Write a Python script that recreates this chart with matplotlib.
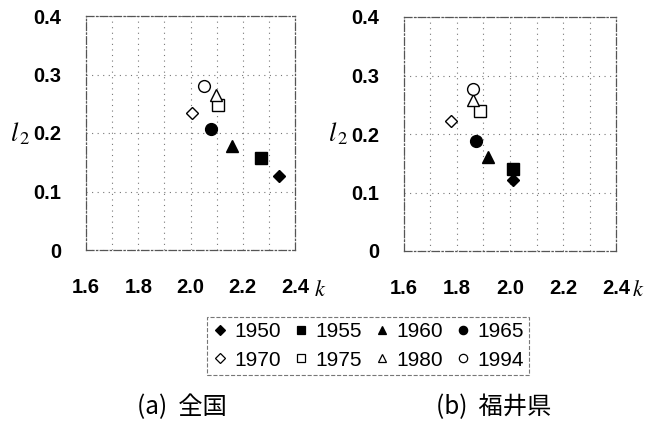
import matplotlib.pyplot as plt
from matplotlib.lines import Line2D

plt.rcParams["font.family"] = ["Liberation Sans", "DejaVu Sans"]
plt.rcParams["mathtext.fontset"] = "stix"

W, H = 654, 425

years = ["1950", "1955", "1960", "1965", "1970", "1975", "1980", "1994"]
markers = ["D", "s", "^", "o", "D", "s", "^", "o"]
filled = [True, True, True, True, False, False, False, False]
marker_sizes = [6.5, 8.5, 8, 8.5, 6.5, 8, 8, 8.5]

# (a) whole country
k_all = [2.34, 2.27, 2.16, 2.08, 2.005, 2.107, 2.098, 2.05]
l2_all = [0.126, 0.158, 0.177, 0.206, 0.234, 0.248, 0.265, 0.281]

# (b) Fukui prefecture
k_fukui = [2.012, 2.012, 1.918, 1.87, 1.776, 1.887, 1.862, 1.862]
l2_fukui = [0.121, 0.141, 0.160, 0.188, 0.222, 0.240, 0.258, 0.277]

captions = ["(a)  全国", "(b)  福井県"]
x_ticks = [1.6, 1.8, 2.0, 2.2, 2.4]
y_ticks = [0, 0.1, 0.2, 0.3, 0.4]
y_tick_labels = ["0", "0.1", "0.2", "0.3", "0.4"]


def px(x, y):
    # pixel position -> figure fraction
    return x / W, 1 - y / H


def draw_panel(ax, ks, l2s):
    for k, l2, m, f, ms in zip(ks, l2s, markers, filled, marker_sizes):
        ax.plot(k, l2, marker=m, linestyle="none", markersize=ms,
                markerfacecolor="black" if f else "white",
                markeredgecolor="black", markeredgewidth=1.0, zorder=3)
    ax.set_xlim(1.6, 2.4)
    ax.set_ylim(0, 0.4)
    ax.set_xticks(x_ticks)
    ax.set_xticklabels([f"{v:.1f}" for v in x_ticks], fontweight="bold")
    ax.set_yticks(y_ticks)
    ax.set_yticklabels(y_tick_labels, fontweight="bold")
    ax.set_xticks([1.7, 1.9, 2.1, 2.3], minor=True)
    ax.tick_params(which="both", length=0)
    ax.tick_params(axis="x", pad=20, labelsize=14.5)
    ax.tick_params(axis="y", pad=18, labelsize=14.5)
    ax.grid(True, which="both", color="#777777", linestyle=(0, (1, 4)), linewidth=0.8)
    for s in ax.spines.values():
        s.set_linestyle((0, (6, 2, 1, 2)))
        s.set_color("#555555")
        s.set_linewidth(0.9)


fig = plt.figure(figsize=(W / 100, H / 100), dpi=100)
ax1 = fig.add_axes([86 / W, 1 - 250 / H, 209 / W, 234 / H])
ax2 = fig.add_axes([404 / W, 1 - 251 / H, 212 / W, 234 / H])

draw_panel(ax1, k_all, l2_all)
draw_panel(ax2, k_fukui, l2_fukui)

# axis labels
for lx, kx in [(20, 320), (338, 638)]:
    fig.text(*px(lx, 134), r"$l_{\,2}$", fontsize=19, ha="center", va="center")
    fig.text(*px(kx, 291), r"$k$", fontsize=16, ha="center", va="center")

# legend
handles = []
for y, m, f in zip(years, markers, filled):
    handles.append(Line2D([], [], marker=m, linestyle="none",
                          markersize=6 if m != "D" else 5,
                          markerfacecolor="black" if f else "white",
                          markeredgecolor="black", markeredgewidth=0.9, label=y))
order = [0, 4, 1, 5, 2, 6, 3, 7]
leg = fig.legend([handles[i] for i in order], [years[i] for i in order],
                 ncol=4, loc="center", bbox_to_anchor=px(368, 346),
                 fontsize=15, frameon=True, fancybox=False,
                 handlelength=0.8, handletextpad=0.3, columnspacing=0.55,
                 labelspacing=0.45, borderpad=0.25)
frame = leg.get_frame()
frame.set_edgecolor("#555555")
frame.set_linestyle("--")
frame.set_linewidth(0.8)

# captions
cap_family = ["Noto Sans CJK JP", "DejaVu Sans"]
fig.text(*px(137, 407), captions[0], fontsize=17.5, ha="left", va="center", family=cap_family)
fig.text(*px(436, 407), captions[1], fontsize=17.5, ha="left", va="center", family=cap_family)

fig.savefig("out.png", dpi=100)
